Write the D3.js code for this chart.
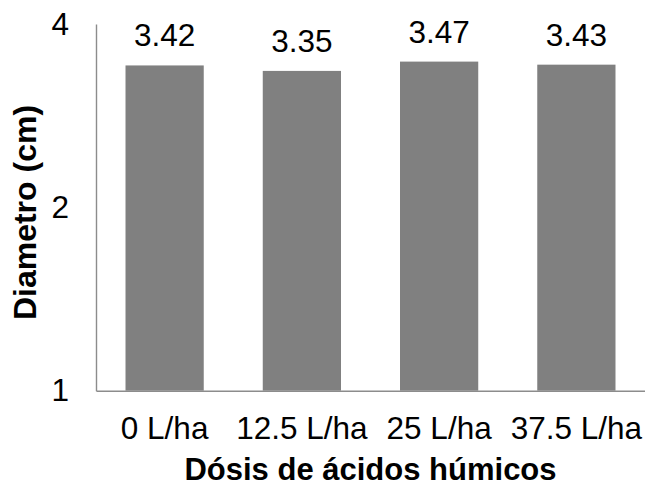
<!DOCTYPE html>
<html>
<head>
<meta charset="utf-8">
<script src="https://cdn.jsdelivr.net/npm/d3@7"></script>
<style>
  html, body { margin: 0; padding: 0; background: #fff; }
  svg { display: block; font-family: "Liberation Sans", Arial, sans-serif; }
</style>
</head>
<body>
<svg id="chart" width="645" height="487"></svg>
<script>
const categories = ["0 L/ha", "12.5 L/ha", "25 L/ha", "37.5 L/ha"];
const values = [3.42, 3.35, 3.47, 3.43];
const valueLabels = ["3.42", "3.35", "3.47", "3.43"];
const yTicks = [1, 2, 4];
const xTitle = "Dósis de ácidos húmicos";
const yTitle = "Diametro (cm)";

const svg = d3.select("#chart");
const mLeft = 96, mRight = 645, mTop = 24, mBottom = 390.7;
const fs = 31.5;

const x = d3.scaleBand().domain(categories).range([mLeft, mRight]).paddingInner(0.43).paddingOuter(0.215);
const y = d3.scaleLog().base(2).domain([1, 4]).range([mBottom, mTop]);

// bars
svg.selectAll("rect.bar").data(values).enter().append("rect")
  .attr("class", "bar")
  .attr("x", (d, i) => x(categories[i]))
  .attr("width", x.bandwidth())
  .attr("y", d => y(d))
  .attr("height", d => mBottom - y(d))
  .attr("fill", "#808080");

// value labels
svg.selectAll("text.val").data(values).enter().append("text")
  .attr("class", "val")
  .attr("x", (d, i) => x(categories[i]) + x.bandwidth() / 2)
  .attr("y", d => y(d) - 19)
  .attr("text-anchor", "middle")
  .attr("font-size", fs)
  .attr("fill", "#000")
  .text((d, i) => valueLabels[i]);

// y axis
const yAxis = d3.axisLeft(y).tickValues(yTicks).tickFormat(d3.format("d")).tickSize(0).tickPadding(27);
const gy = svg.append("g").attr("transform", `translate(${mLeft},0)`).call(yAxis);
gy.select(".domain").attr("stroke", "#8c8c8c").attr("stroke-width", 1.4);
gy.selectAll("text").attr("font-size", fs).attr("fill", "#000")
  .attr("font-family", "Liberation Sans, Arial, sans-serif");

// x axis
const xAxis = d3.axisBottom(x).tickSize(0).tickPadding(26);
const gx = svg.append("g").attr("transform", `translate(0,${mBottom})`).call(xAxis);
gx.select(".domain").attr("stroke", "#8c8c8c").attr("stroke-width", 1.4);
gx.selectAll("text").attr("font-size", fs).attr("fill", "#000")
  .attr("font-family", "Liberation Sans, Arial, sans-serif");

// titles
svg.append("text")
  .attr("x", (mLeft + mRight) / 2)
  .attr("y", 479.5)
  .attr("text-anchor", "middle")
  .attr("font-size", 31)
  .attr("font-weight", "bold")
  .text(xTitle);

svg.append("text")
  .attr("transform", `translate(36,212.5) rotate(-90)`)
  .attr("text-anchor", "middle")
  .attr("font-size", 32)
  .attr("font-weight", "bold")
  .text(yTitle);
</script>
</body>
</html>
